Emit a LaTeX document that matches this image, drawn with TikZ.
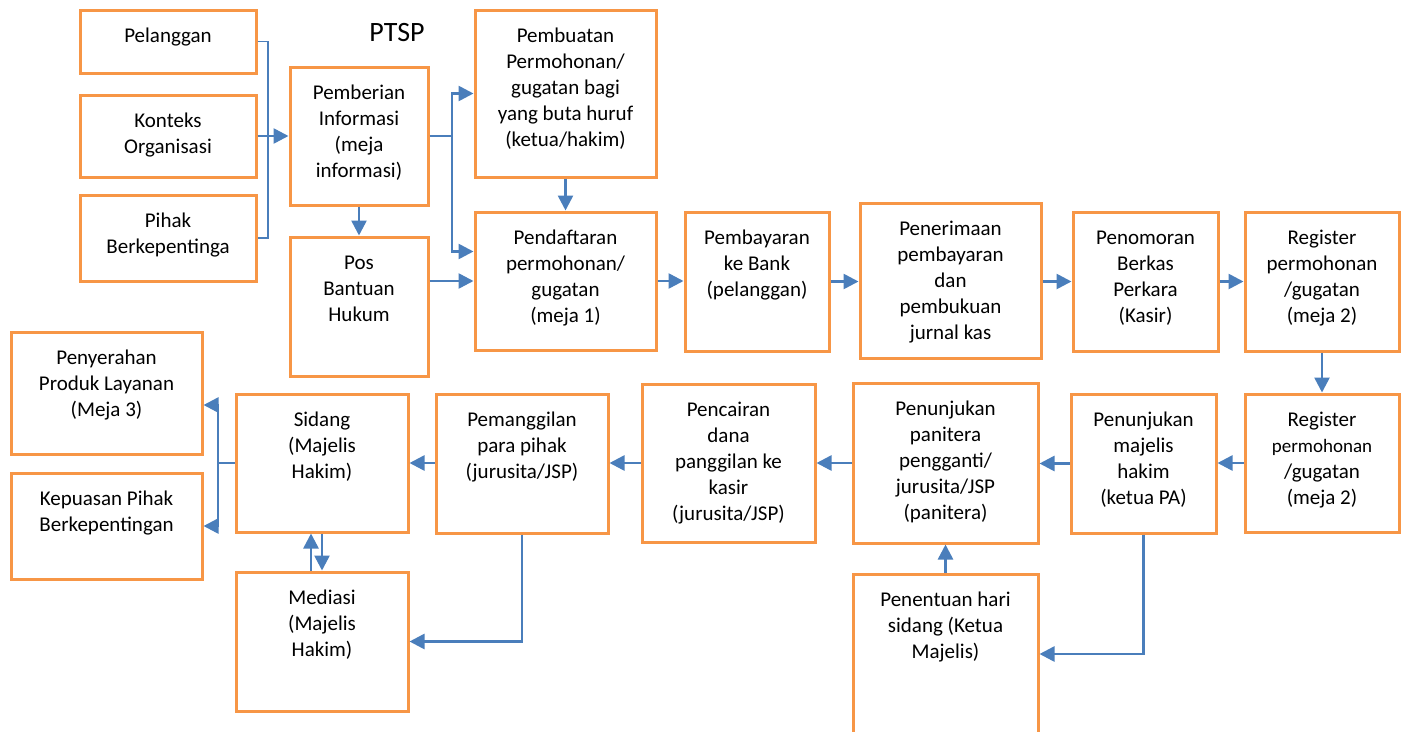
\documentclass[tikz,border=0pt]{standalone}
\usepackage{fontspec}
\setmainfont{Carlito}
\usetikzlibrary{arrows.meta, calc}

\definecolor{boxorange}{RGB}{247,150,70}
\definecolor{linkblue}{RGB}{74,126,187}
% text sits at the top of each box: width, height, lines
\newcommand{\boxtext}[3]{\parbox[c][#2pt][t]{#1pt}{\centering\vspace*{14pt}\strut#3}}

\begin{document}
\begin{tikzpicture}[
    x=1pt, y=-1pt,
    box/.style={draw=boxorange, line width=3pt, inner sep=0pt, font=\fontsize{21}{26}\selectfont},
    link/.style={draw=linkblue, line width=2.6pt, -{Triangle[length=15pt, width=15pt]}},
    thinlink/.style={draw=linkblue, line width=1.4pt}
]
\useasboundingbox (0,0) rectangle (1407,731);

% --- Inputs and PTSP ---
\node[box] (pelanggan) at (168,41.5) {\boxtext{176}{63}{Pelanggan}};
\node[box] (konteks) at (168,136) {\boxtext{176}{82}{Konteks\\Organisasi}};
\node[box] (pihak) at (168,238) {\boxtext{176}{86}{Pihak\\Berkepentinga}};
\node[font=\fontsize{28}{34}\selectfont] (ptsp) at (397,33) {PTSP};
\node[box] (pemberian) at (359,136) {\boxtext{138}{138}{Pemberian\\Informasi\\(meja\\informasi)}};
\node[box] (posbantuan) at (359,306.5) {\boxtext{138}{139}{Pos\\Bantuan\\Hukum}};
\node[box] (pembuatan) at (565.5,93.5) {\boxtext{181}{167}{Pembuatan\\Permohonan/\\gugatan bagi\\yang buta huruf\\(ketua/hakim)}};

% --- Upper row ---
\node[box] (pendaftaran) at (565.5,281) {\boxtext{181}{138}{Pendaftaran\\permohonan/\\gugatan\\(meja 1)}};
\node[box] (pembayaran) at (757,281.5) {\boxtext{144}{139}{Pembayaran\\ke Bank\\(pelanggan)}};
\node[box] (penerimaan) at (950.5,280.5) {\boxtext{181}{155}{Penerimaan\\pembayaran\\dan\\pembukuan\\jurnal kas}};
\node[box] (penomoran) at (1145.5,281.5) {\boxtext{145}{139}{Penomoran\\Berkas\\Perkara\\(Kasir)}};
\node[box] (registerA) at (1322,281.5) {\boxtext{154}{139}{Register\\permohonan\\/gugatan\\(meja 2)}};

% --- Lower row ---
\node[box] (registerB) at (1322,463) {\boxtext{154}{138}{Register\\{\fontsize{19}{26}\selectfont permohonan}\\/gugatan\\(meja 2)}};
\node[box] (majelis) at (1143.5,463.5) {\boxtext{145}{139}{Penunjukan\\majelis\\hakim\\(ketua PA)}};
\node[box] (panitera) at (945.5,463) {\boxtext{185}{160}{Penunjukan\\panitera\\pengganti/\\jurusita/JSP\\(panitera)}};
\node[box] (pencairan) at (728.5,463) {\boxtext{173}{158}{Pencairan\\dana\\panggilan ke\\kasir\\(jurusita/JSP)}};
\node[box] (pemanggilan) at (522,463.5) {\boxtext{172}{139}{Pemanggilan\\para pihak\\(jurusita/JSP)}};
\node[box] (sidang) at (322,463) {\boxtext{172}{138}{Sidang\\(Majelis\\Hakim)}};
\node[box] (mediasi) at (322,641.5) {\boxtext{172}{139}{Mediasi\\(Majelis\\Hakim)}};
\node[box] (penyerahan) at (106.5,393) {\boxtext{191}{122}{Penyerahan\\Produk Layanan\\(Meja 3)}};
\node[box] (kepuasan) at (106.5,526) {\boxtext{191}{106}{Kepuasan Pihak\\Berkepentingan}};
\node[box] (penentuan) at (945.5,654) {\boxtext{185}{160}{Penentuan hari\\sidang (Ketua\\Majelis)}};

% --- Connectors ---
\coordinate (gather) at (268,136);
\draw[thinlink] (pelanggan.east) -| (gather) |- (pihak.east);
\draw[link] (konteks.east) -- (pemberian.west);

\coordinate (split) at (452,136);
\draw[link] (pemberian.east) -- (split) |- (pembuatan.west);
\draw[link] (split) |- ([yshift=-41pt]pendaftaran.north west);
\draw[link] (pemberian.south) -- (posbantuan.north);
\draw[link] (posbantuan.east |- pendaftaran.west) -- (pendaftaran.west);
\draw[link] (pembuatan.south) -- (pendaftaran.north);

\draw[link] (pendaftaran.east) -- (pembayaran.west |- pendaftaran.east);
\draw[link] (pembayaran.east) -- (penerimaan.west |- pembayaran.east);
\draw[link] (penerimaan.east |- penomoran.west) -- (penomoran.west);
\draw[link] (penomoran.east) -- (registerA.west);
\draw[link] (registerA.south) -- (registerB.north);

\draw[link] (registerB.west) -- (majelis.east |- registerB.west);
\draw[link] (majelis.west) -- (panitera.east |- majelis.west);
\draw[link] (panitera.west) -- (pencairan.east);
\draw[link] (pencairan.west) -- (pemanggilan.east |- pencairan.west);
\draw[link] (pemanggilan.west |- sidang.east) -- (sidang.east);

\draw[link] (majelis.south) |- (penentuan.east);
\draw[link] (penentuan.north) -- (panitera.south);
\draw[link] (pemanggilan.south) |- (mediasi.east);
\draw[link] ([xshift=-11pt]mediasi.north) -- ([xshift=-11pt]sidang.south);
\draw[link] (sidang.south) -- (mediasi.north);

\coordinate (fork) at (218,463);
\draw[thinlink] (sidang.west) -- (fork);
\draw[link] (fork) |- ([yshift=-12pt]penyerahan.east);
\draw[link] (fork) |- (kepuasan.east);

\end{tikzpicture}
\end{document}
